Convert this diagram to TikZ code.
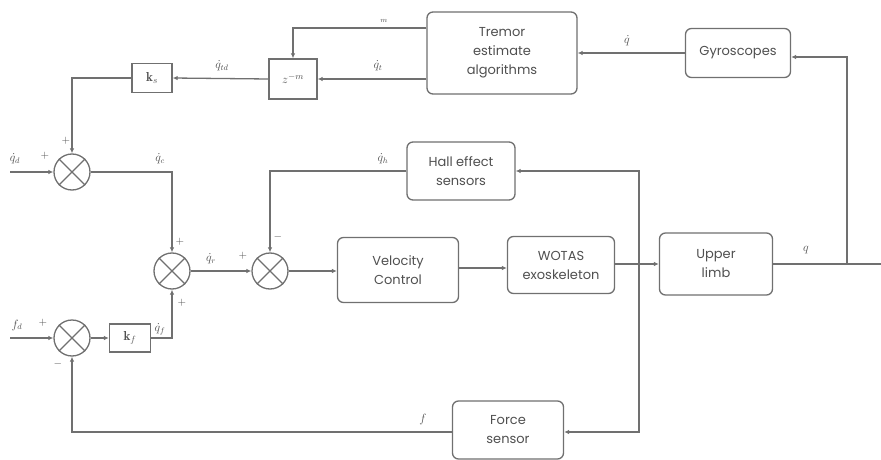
\documentclass[tikz,border=0pt]{standalone}
\usepackage{fontspec}
\setsansfont{Poppins}
\usetikzlibrary{arrows.meta}
\definecolor{ln}{HTML}{707070}
\definecolor{tx}{HTML}{505050}
\begin{document}
\begin{tikzpicture}[x=1pt,y=-1pt,
  line width=1.3pt,
  every node/.style={text=tx},
  blk/.style={draw=ln,rounded corners=6pt,align=center,inner sep=0pt,font=\sffamily\fontsize{13}{19}\selectfont},
  gain/.style={draw=ln,inner sep=0pt,font=\fontsize{13}{14}\selectfont},
  sumj/.style={draw=ln,circle,minimum size=36pt,inner sep=0pt},
  con/.style={draw=ln,-{Latex[length=5pt,width=4.5pt]}},
  wire/.style={draw=ln},
  lab/.style={font=\fontsize{12}{13}\selectfont,inner sep=0pt},
  sgn/.style={font=\fontsize{11}{12}\selectfont,inner sep=0pt}]
\useasboundingbox (0,0) rectangle (881,460);
\fill[white] (0,0) rectangle (881,460);
% blocks
\node[blk,minimum width=150pt,minimum height=82pt] (tremor) at (502,53) {Tremor\\estimate\\algorithms};
\node[blk,minimum width=105pt,minimum height=49pt] (gyro) at (738,53) {Gyroscopes};
\node[gain,minimum width=48pt,minimum height=40pt] (zb) at (293,79) {$z^{-m}$};
\node[gain,minimum width=40pt,minimum height=29pt] (ks) at (152,78) {$\mathbf{k}_s$};
\node[gain,minimum width=41pt,minimum height=28pt] (kf) at (130,338) {$\mathbf{k}_f$};
\node[blk,minimum width=108pt,minimum height=58pt] (hall) at (461,171) {Hall effect\\sensors};
\node[blk,minimum width=121pt,minimum height=65pt] (vel) at (398,270) {Velocity\\Control};
\node[blk,minimum width=107pt,minimum height=57pt] (wotas) at (561,265) {WOTAS\\exoskeleton};
\node[blk,minimum width=113pt,minimum height=62pt] (upper) at (716,264) {Upper\\limb};
\node[blk,minimum width=111pt,minimum height=58pt] (force) at (508,430) {Force\\sensor};
% summing junctions
\foreach \n/\x/\y in {s1/72/172,s4/172/271,s2/270/271,s3/72/338}{
  \node[sumj] (\n) at (\x,\y) {};
  \draw[ln,line width=1.1pt] (\n.north east) -- (\n.south west) (\n.north west) -- (\n.south east);
}
% coordinates
\coordinate (qin) at (10,172);
\coordinate (fin) at (10,338);
\coordinate (qout) at (881,264);
\coordinate (qb) at (847,264);
\coordinate (wb) at (639,264);
% top path
\draw[con] (gyro.west) -- (tremor.east);
\draw[con] (qb) |- ([yshift=-4pt]gyro.east);
\draw[wire] (upper.east) -- (qout);
\draw[con] ([yshift=-26pt]tremor.west) -- (zb.east);
\draw[con] ([yshift=25pt]tremor.west) -| (zb.north);
\draw[con] (zb.west) -- (ks.east);
\draw[con] (ks.west) -| (s1.north);
\draw[con] (qin) -- (s1.west);
\draw[con] (s1.east) -| (s4.north);
\draw[con] (fin) -- (s3.west);
\draw[con] (s3.east) -- (kf.west);
\draw[con] (kf.east) -| (s4.south);
\draw[con] (s4.east) -- (s2.west);
\draw[con] (hall.west) -| (s2.north);
\draw[con] (s2.east) -- (s2.east -| vel.west);
\draw[con] ([yshift=2pt]vel.east) -- ([yshift=2pt]vel.east -| wotas.west);
\draw[con] (wotas.east |- wb) -- (upper.west);
\draw[con] (wb) |- (hall.east);
\draw[con] (wb) |- ([yshift=-2pt]force.east);
\draw[con] ([yshift=-2pt]force.west) -| (s3.south);
% labels
\node[lab] at (627,41) {$\dot{q}$};
\node[lab] at (378,66) {$\dot{q}_t$};
\node[lab,font=\fontsize{7}{8}\selectfont] at (384,21) {$m$};
\node[lab] at (222,66) {$\dot{q}_{td}$};
\node[lab] at (15,159) {$\dot{q}_d$};
\node[lab] at (160,159) {$\dot{q}_c$};
\node[lab] at (383,159) {$\dot{q}_h$};
\node[lab] at (211,259) {$\dot{q}_r$};
\node[lab] at (160,329) {$\dot{q}_f$};
\node[lab] at (17,325) {$f_d$};
\node[lab] at (423,419) {$f$};
\node[lab] at (806,250) {$q$};
\node[sgn] at (45,156) {$+$};
\node[sgn] at (66,141) {$+$};
\node[sgn] at (180,242) {$+$};
\node[sgn] at (182,303) {$+$};
\node[sgn] at (243,256) {$+$};
\node[sgn] at (278,237) {$-$};
\node[sgn] at (43,323) {$+$};
\node[sgn] at (58,364) {$-$};
\end{tikzpicture}
\end{document}
